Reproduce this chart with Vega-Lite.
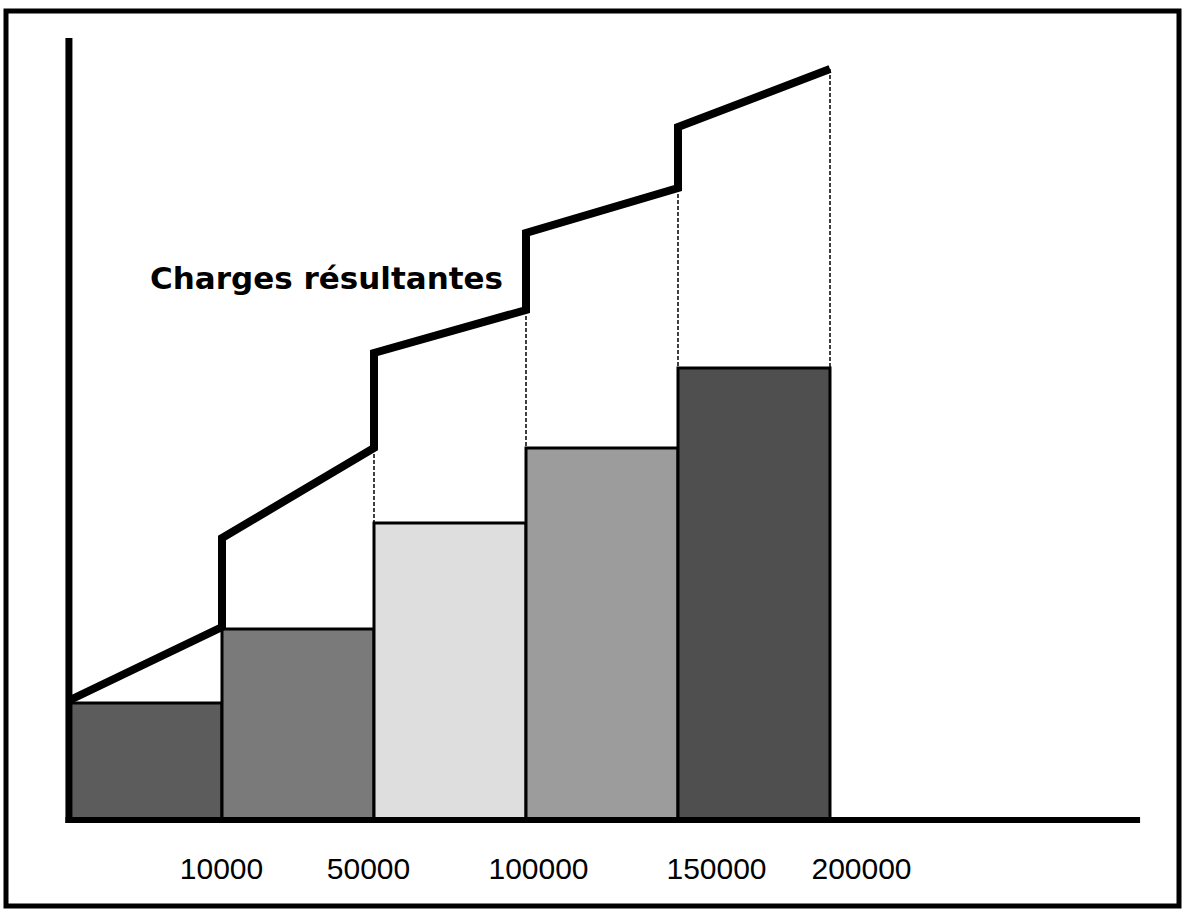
{
  "$schema": "https://vega.github.io/schema/vega-lite/v6.json",
  "autosize": {"type": "none"},
  "width": 1173,
  "height": 895,
  "padding": {"left": 6, "top": 11, "right": 4, "bottom": 5},
  "background": "white",
  "config": {"view": {"stroke": "black", "strokeWidth": 5}},
  "datasets": {
    "bars": [
      {"start": 0, "end": 1, "upper": "10000", "charge": 117},
      {"start": 1, "end": 2, "upper": "50000", "charge": 191},
      {"start": 2, "end": 3, "upper": "100000", "charge": 297},
      {"start": 3, "end": 4, "upper": "150000", "charge": 372},
      {"start": 4, "end": 5, "upper": "200000", "charge": 452}
    ],
    "resultantes": [
      {"seq": 1, "x": 0, "y": 120},
      {"seq": 2, "x": 1, "y": 193},
      {"seq": 3, "x": 1, "y": 282},
      {"seq": 4, "x": 2, "y": 372},
      {"seq": 5, "x": 2, "y": 467},
      {"seq": 6, "x": 3, "y": 510},
      {"seq": 7, "x": 3, "y": 587},
      {"seq": 8, "x": 4, "y": 632},
      {"seq": 9, "x": 4, "y": 693},
      {"seq": 10, "x": 5, "y": 751}
    ],
    "edges": [
      {"x": 2, "top": 372, "bottom": 297},
      {"x": 3, "top": 510, "bottom": 372},
      {"x": 4, "top": 632, "bottom": 452},
      {"x": 5, "top": 751, "bottom": 452}
    ],
    "one": [{"label": "Charges résultantes"}]
  },
  "layer": [
    {
      "data": {"name": "bars"},
      "mark": {"type": "bar", "stroke": "black", "strokeWidth": 3},
      "encoding": {
        "x": {"field": "start", "type": "quantitative",
              "scale": {"domain": [-0.42105, 7.2961], "nice": false, "zero": false},
              "axis": {
                "values": [1, 2, 3, 4, 5],
                "labelExpr": "['', '10000', '50000', '100000', '150000', '200000'][datum.value]",
                "domain": false, "ticks": false, "grid": false, "title": null,
                "offset": -28, "labelPadding": 0, "labelBaseline": "alphabetic",
                "labelFont": "Liberation Sans", "labelFontSize": 30, "labelColor": "black",
                "labelFlush": false, "labelOverlap": false,
                "labelOffset": {"condition": [
                  {"test": "datum.value == 1", "value": -1},
                  {"test": "datum.value == 2", "value": -6},
                  {"test": "datum.value == 3", "value": 12},
                  {"test": "datum.value == 4", "value": 38}
                ], "value": 31}
              }},
        "x2": {"field": "end"},
        "y": {"field": "charge", "type": "quantitative",
              "scale": {"domain": [-86, 809], "nice": false, "zero": false}, "axis": null},
        "y2": {"datum": 0},
        "fill": {"field": "upper", "type": "nominal",
                 "scale": {"domain": ["10000", "50000", "100000", "150000", "200000"],
                           "range": ["#5c5c5c", "#7a7a7a", "#dedede", "#9c9c9c", "#4f4f4f"]},
                 "legend": null}
      }
    },
    {
      "data": {"name": "edges"},
      "mark": {"type": "rule", "color": "black", "strokeWidth": 1.5, "strokeDash": [4, 2]},
      "encoding": {
        "x": {"field": "x", "type": "quantitative"},
        "y": {"field": "top", "type": "quantitative"},
        "y2": {"field": "bottom"}
      }
    },
    {
      "data": {"name": "resultantes"},
      "mark": {"type": "line", "color": "black", "strokeWidth": 8, "strokeJoin": "miter", "strokeCap": "butt"},
      "encoding": {
        "x": {"field": "x", "type": "quantitative"},
        "y": {"field": "y", "type": "quantitative"},
        "order": {"field": "seq", "type": "quantitative"}
      }
    },
    {
      "data": {"name": "one"},
      "mark": {"type": "rule", "color": "black", "strokeWidth": 7},
      "encoding": {
        "x": {"datum": -0.007, "type": "quantitative"},
        "y": {"datum": -3, "type": "quantitative"},
        "y2": {"datum": 782}
      }
    },
    {
      "data": {"name": "one"},
      "mark": {"type": "rule", "color": "black", "strokeWidth": 6},
      "encoding": {
        "x": {"datum": -0.03, "type": "quantitative"},
        "x2": {"datum": 7.04},
        "y": {"datum": 0, "type": "quantitative"}
      }
    },
    {
      "data": {"name": "one"},
      "mark": {"type": "text", "font": "DejaVu Sans", "fontWeight": "bold",
               "fontSize": 31, "align": "left", "baseline": "alphabetic", "color": "black"},
      "encoding": {
        "text": {"field": "label", "type": "nominal"},
        "x": {"datum": 0.526, "type": "quantitative"},
        "y": {"datum": 531, "type": "quantitative"}
      }
    }
  ]
}
